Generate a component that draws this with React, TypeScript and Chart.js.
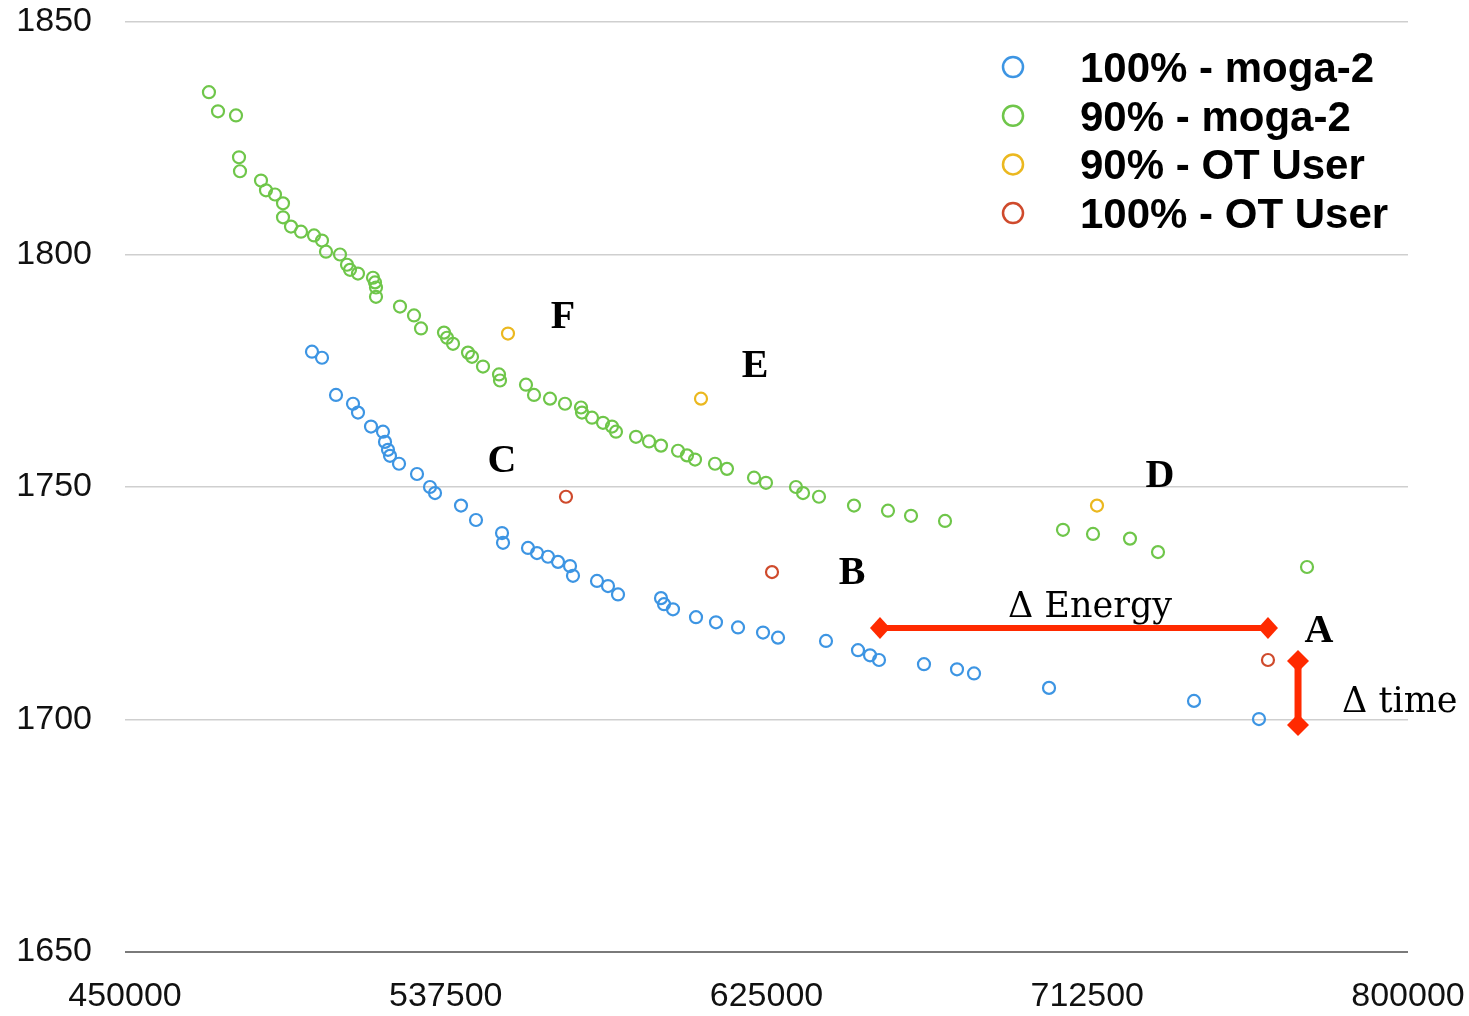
import React, { useEffect, useRef } from "react";
import { Chart, registerables } from "chart.js";

Chart.register(...registerables);

// ---- Data ----
const seriesNames = ["100% - moga-2", "90% - moga-2", "90% - OT User", "100% - OT User"];
const seriesColors = ["#3d95e3", "#6fc64a", "#ebb81f", "#cf4a2c"];

const blueEnergy = [
  501010, 503740, 507560, 512200, 513560, 517110, 520380, 520930, 521740, 522290,
  524750, 529660, 533200, 534570, 541660, 545750, 552850, 553120, 559940, 562390,
  565390, 568120, 571400, 572210, 578760, 581760, 584490, 596220, 597040, 599490,
  605770, 611220, 617230, 624050, 628140, 641230, 649960, 653240, 655690, 667960,
  676970, 681610, 702070, 741620, 759350,
];
const blueTime = [
  1779.1, 1777.8, 1769.8, 1767.9, 1766.0, 1763.0, 1761.9, 1759.7, 1758.0, 1756.7,
  1755.0, 1752.8, 1750.0, 1748.7, 1746.0, 1742.9, 1740.1, 1738.0, 1736.9, 1735.8,
  1735.0, 1733.9, 1733.0, 1730.9, 1729.8, 1728.7, 1726.9, 1726.1, 1724.8, 1723.7,
  1722.0, 1720.9, 1719.8, 1718.7, 1717.6, 1716.9, 1714.9, 1713.8, 1712.8, 1711.9,
  1710.8, 1709.9, 1706.8, 1704.0, 1700.1,
];

const greenEnergy = [
  472900, 475370, 480280, 481100, 481370, 487100, 488460, 490920, 493100, 493100,
  495285, 498010, 501560, 503740, 504830, 508650, 510560, 511380, 513560, 517650,
  518200, 518470, 518470, 525020, 528840, 530750, 537020, 537840, 539480, 543570,
  544660, 547660, 552030, 552300, 559390, 561575, 565940, 570030, 574400, 574670,
  577400, 580400, 582850, 583940, 589400, 592950, 596220, 600860, 603310, 605500,
  610950, 614220, 621590, 624860, 633040, 634960, 639320, 648870, 658140, 664420,
  673700, 705880, 714070, 724160, 731800, 772450,
];
const greenTime = [
  1834.9, 1830.8, 1829.9, 1820.9, 1817.9, 1815.9, 1813.8, 1812.9, 1811.0, 1808.0,
  1806.0, 1804.9, 1804.1, 1803.0, 1800.6, 1800.0, 1797.8, 1796.7, 1795.9, 1795.0,
  1794.0, 1792.9, 1790.9, 1788.8, 1786.9, 1784.1, 1783.2, 1782.1, 1780.8, 1778.9,
  1778.0, 1775.9, 1774.2, 1772.9, 1772.0, 1769.8, 1769.0, 1767.9, 1767.1, 1766.0,
  1764.9, 1763.8, 1763.0, 1761.9, 1760.8, 1759.8, 1758.9, 1757.8, 1756.8, 1755.9,
  1755.0, 1753.9, 1752.0, 1750.9, 1750.0, 1748.7, 1747.9, 1746.0, 1744.9, 1743.8,
  1742.7, 1740.8, 1739.9, 1738.9, 1736.0, 1732.8,
];

const yellowEnergy = [554480, 607130, 715160];
const yellowTime = [1783.0, 1769.0, 1746.0];

const redEnergy = [570300, 626500, 761800];
const redTime = [1747.9, 1731.7, 1712.8];

const xTicks = [450000, 537500, 625000, 712500, 800000];
const yTicks = [1650, 1700, 1750, 1800, 1850];

// point annotation letters (centre x, baseline y in data units)
const letterTexts = ["F", "E", "C", "D", "B", "A"];
const letterX = [569490, 621860, 552850, 732350, 648330, 775720];
const letterY = [1784.3, 1773.7, 1753.3, 1750.0, 1729.2, 1716.7];

// delta annotations
const deltaTexts = ["Δ Energy", "Δ time"];
const deltaX = [713250, 782000];
const deltaY = [1722.0, 1701.6];

const energyArrowX = [655960, 761800];
const energyArrowY = [1719.7, 1719.7];
const timeArrowX = [770000, 770000];
const timeArrowY = [1712.6, 1698.8];

const pair = (xs: number[], ys: number[]) => xs.map((x, i) => ({ x, y: ys[i] }));

const ARROW_COLOR = "#ff2a00";

function drawDiamond(ctx: CanvasRenderingContext2D, x: number, y: number, hw: number, hh: number) {
  ctx.beginPath();
  ctx.moveTo(x - hw, y);
  ctx.lineTo(x, y - hh);
  ctx.lineTo(x + hw, y);
  ctx.lineTo(x, y + hh);
  ctx.closePath();
  ctx.fill();
}

const overlayPlugin = {
  id: "overlay",
  afterDraw(chart: any) {
    const ctx: CanvasRenderingContext2D = chart.ctx;
    const xs = chart.scales.x;
    const ys = chart.scales.y;
    ctx.save();

    // legend
    const legX = 1013;
    const legY0 = 67;
    const legStep = 48.7;
    seriesNames.forEach((name, i) => {
      const cy = legY0 + i * legStep;
      ctx.beginPath();
      ctx.arc(legX, cy, 10, 0, Math.PI * 2);
      ctx.lineWidth = 2.5;
      ctx.strokeStyle = seriesColors[i];
      ctx.stroke();
      ctx.fillStyle = "#000";
      ctx.font = "bold 42px 'Liberation Sans', Arial, sans-serif";
      ctx.textAlign = "left";
      ctx.textBaseline = "alphabetic";
      ctx.fillText(name, 1080, cy + 15);
    });

    // energy arrow
    ctx.fillStyle = ARROW_COLOR;
    ctx.strokeStyle = ARROW_COLOR;
    const ex0 = xs.getPixelForValue(energyArrowX[0]);
    const ex1 = xs.getPixelForValue(energyArrowX[1]);
    const ey0 = ys.getPixelForValue(energyArrowY[0]);
    const ey1 = ys.getPixelForValue(energyArrowY[1]);
    ctx.lineWidth = 6;
    ctx.beginPath();
    ctx.moveTo(ex0, ey0);
    ctx.lineTo(ex1, ey1);
    ctx.stroke();
    drawDiamond(ctx, ex0, ey0, 10, 11);
    drawDiamond(ctx, ex1, ey1, 10, 11);

    // time arrow
    const tx0 = xs.getPixelForValue(timeArrowX[0]);
    const tx1 = xs.getPixelForValue(timeArrowX[1]);
    const ty0 = ys.getPixelForValue(timeArrowY[0]);
    const ty1 = ys.getPixelForValue(timeArrowY[1]);
    ctx.lineWidth = 7;
    ctx.beginPath();
    ctx.moveTo(tx0, ty0);
    ctx.lineTo(tx1, ty1);
    ctx.stroke();
    drawDiamond(ctx, tx0, ty0, 11, 11);
    drawDiamond(ctx, tx1, ty1, 11, 11);

    // letters
    ctx.fillStyle = "#000";
    ctx.font = "bold 40px 'Liberation Serif', 'Times New Roman', serif";
    ctx.textAlign = "center";
    ctx.textBaseline = "alphabetic";
    letterTexts.forEach((t, i) => {
      ctx.fillText(t, xs.getPixelForValue(letterX[i]), ys.getPixelForValue(letterY[i]));
    });

    // delta labels
    ctx.font = "35px 'DejaVu Serif', serif";
    deltaTexts.forEach((t, i) => {
      ctx.textAlign = i === 0 ? "center" : "left";
      ctx.fillText(t, xs.getPixelForValue(deltaX[i]), ys.getPixelForValue(deltaY[i]));
    });

    ctx.restore();
  },
};

export default function App() {
  const canvasRef = useRef<HTMLCanvasElement | null>(null);

  useEffect(() => {
    if (!canvasRef.current) return;
    const mk = (i: number, data: { x: number; y: number }[]) => ({
      label: seriesNames[i],
      data,
      borderColor: seriesColors[i],
      backgroundColor: "rgba(255,255,255,0)",
      pointRadius: 6,
      pointBorderWidth: 2.2,
      pointHoverRadius: 6,
      showLine: false,
    });
    const chart = new Chart(canvasRef.current, {
      type: "scatter",
      data: {
        datasets: [
          mk(0, pair(blueEnergy, blueTime)),
          mk(1, pair(greenEnergy, greenTime)),
          mk(2, pair(yellowEnergy, yellowTime)),
          mk(3, pair(redEnergy, redTime)),
        ],
      },
      options: {
        animation: false,
        responsive: false,
        maintainAspectRatio: false,
        devicePixelRatio: 1,
        layout: { padding: { top: 22, right: 61, left: 0, bottom: 0 } },
        plugins: {
          legend: { display: false },
          tooltip: { enabled: false },
        },
        scales: {
          x: {
            type: "linear",
            min: 450000,
            max: 800000,
            afterBuildTicks: (scale: any) => {
              scale.ticks = xTicks.map((v) => ({ value: v }));
            },
            afterFit: (scale: any) => {
              scale.height = 64;
              scale.paddingLeft = 0;
              scale.paddingRight = 0;
              scale.paddingTop = 0;
              scale.paddingBottom = 0;
            },
            grid: { display: false, drawTicks: false },
            border: { display: false },
            ticks: {
              padding: 24,
              color: "#111",
              font: { family: "'Liberation Sans', Arial, sans-serif", size: 34 },
              callback: (v: any) => String(v),
              maxRotation: 0,
              autoSkip: false,
            },
          },
          y: {
            type: "linear",
            min: 1650,
            max: 1850,
            afterBuildTicks: (scale: any) => {
              scale.ticks = yTicks.map((v) => ({ value: v }));
            },
            afterFit: (scale: any) => {
              scale.width = 125;
              scale.paddingLeft = 0;
              scale.paddingRight = 0;
              scale.paddingTop = 0;
              scale.paddingBottom = 0;
            },
            grid: {
              drawTicks: false,
              color: (c: any) => (c.tick && c.tick.value === 1650 ? "#7a7a7a" : "#cfcfcf"),
              lineWidth: (c: any) => (c.tick && c.tick.value === 1650 ? 2 : 1.5),
            },
            border: { display: false },
            ticks: {
              padding: 33,
              color: "#111",
              font: { family: "'Liberation Sans', Arial, sans-serif", size: 34 },
              callback: (v: any) => String(v),
              autoSkip: false,
            },
          },
        },
      },
      plugins: [overlayPlugin],
    } as any);
    return () => chart.destroy();
  }, []);

  return (
    <div style={{ position: "absolute", left: 0, top: 0, width: 1469, height: 1016, background: "#fff" }}>
      <canvas ref={canvasRef} width={1469} height={1016} style={{ width: 1469, height: 1016 }} />
    </div>
  );
}
